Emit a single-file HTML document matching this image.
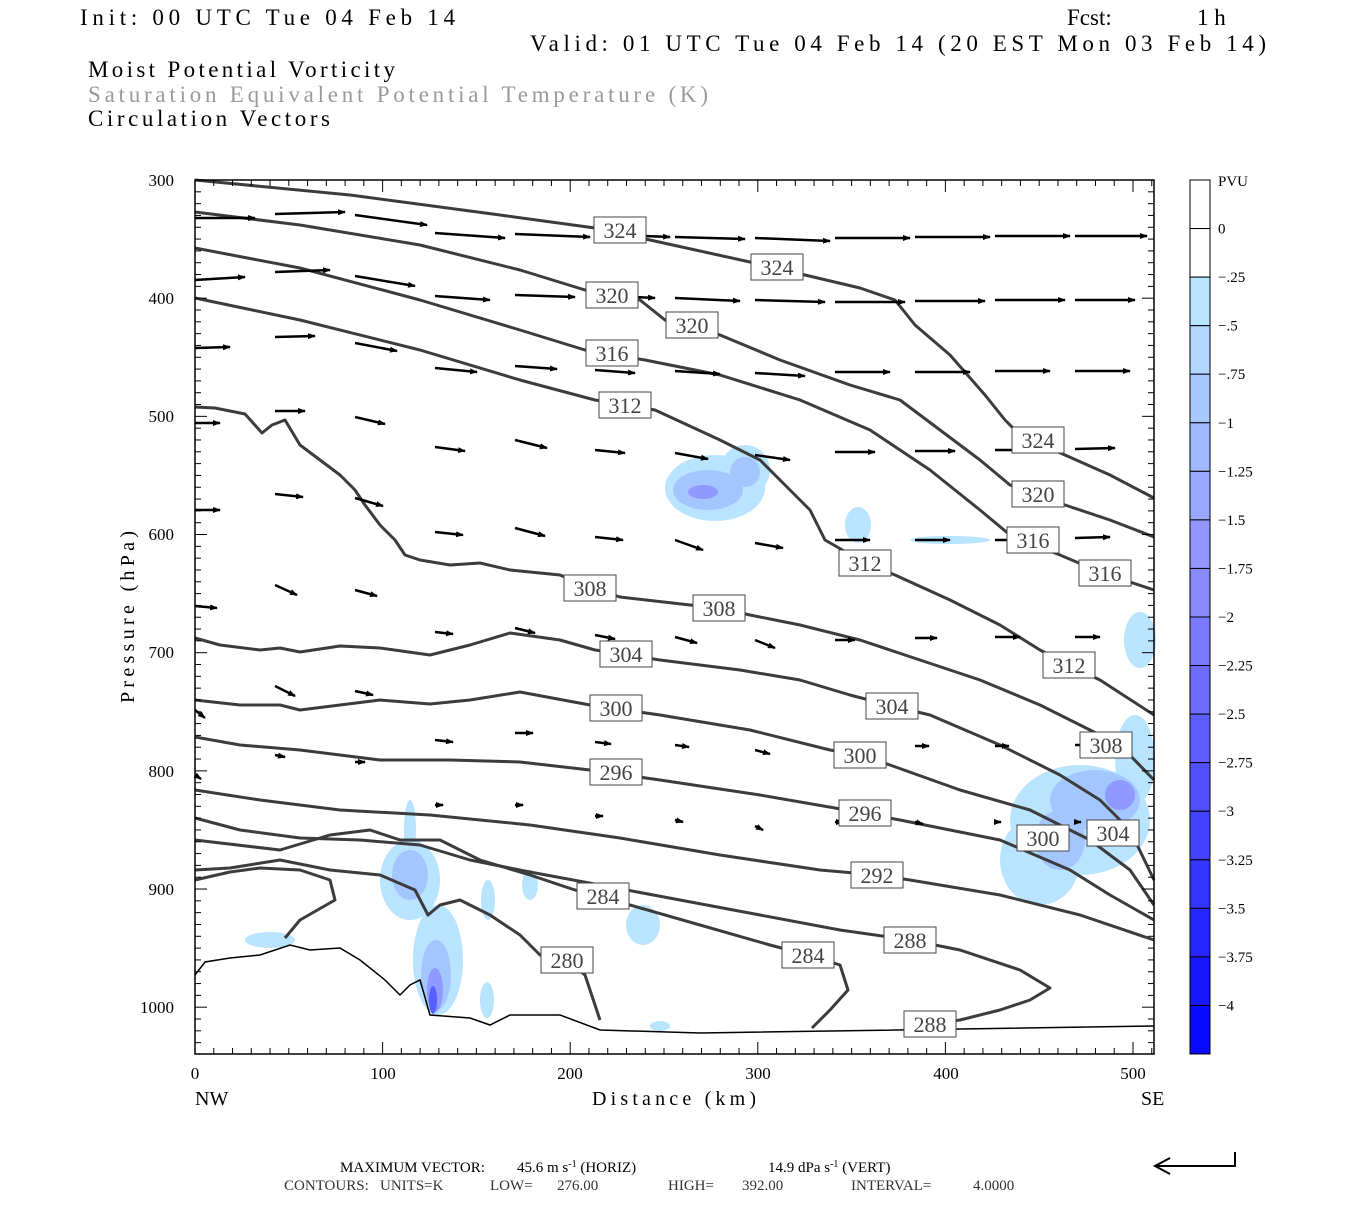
<!DOCTYPE html>
<html><head><meta charset="utf-8"><style>
body{margin:0;background:#fff;width:1350px;height:1200px;overflow:hidden}
svg{font-family:"Liberation Serif",serif}
</style></head><body>
<svg id="s" width="1350" height="1200" xmlns="http://www.w3.org/2000/svg">
<defs><marker id="ah" markerWidth="8" markerHeight="8" refX="7" refY="4" orient="auto" markerUnits="userSpaceOnUse"><path d="M0,1 L8,4 L0,7 Z" fill="#000"/></marker></defs>
<g font-size="23" fill="#000" lengthAdjust="spacing">
<text x="80" y="25" textLength="375">Init: 00 UTC Tue 04 Feb 14</text>
<text x="1067" y="25">Fcst:</text><text x="1197" y="25">1 h</text>
<text x="530" y="51" textLength="736">Valid: 01 UTC Tue 04 Feb 14 (20 EST Mon 03 Feb 14)</text>
<text x="88" y="77" textLength="307">Moist Potential Vorticity</text>
<text x="88" y="102" fill="#999" textLength="620">Saturation Equivalent Potential Temperature (K)</text>
<text x="88" y="126" textLength="242">Circulation Vectors</text>
</g>
<g id="shade" fill="#b9e4ff">
<ellipse cx="715" cy="488" rx="50" ry="33"/><ellipse cx="745" cy="470" rx="25" ry="25"/>
<ellipse cx="858" cy="525" rx="13" ry="18"/><ellipse cx="950" cy="540" rx="40" ry="4"/>
<ellipse cx="1140" cy="640" rx="16" ry="28"/>
<ellipse cx="1080" cy="820" rx="70" ry="55"/><ellipse cx="1040" cy="860" rx="40" ry="45"/><ellipse cx="1135" cy="760" rx="20" ry="45"/>
<ellipse cx="410" cy="880" rx="30" ry="40"/><ellipse cx="438" cy="960" rx="25" ry="55"/><ellipse cx="410" cy="830" rx="6" ry="30"/>
<ellipse cx="488" cy="900" rx="7" ry="20"/><ellipse cx="530" cy="885" rx="8" ry="15"/><ellipse cx="643" cy="925" rx="17" ry="20"/>
<ellipse cx="270" cy="940" rx="25" ry="8"/><ellipse cx="487" cy="1000" rx="7" ry="18"/><ellipse cx="660" cy="1026" rx="10" ry="5"/>
</g>
<g fill="#a4c6ff"><ellipse cx="708" cy="490" rx="35" ry="20"/><ellipse cx="745" cy="472" rx="15" ry="15"/><ellipse cx="1095" cy="800" rx="45" ry="30"/><ellipse cx="1060" cy="840" rx="25" ry="30"/><ellipse cx="410" cy="875" rx="18" ry="25"/><ellipse cx="436" cy="975" rx="15" ry="35"/></g>
<g fill="#8f99ff"><ellipse cx="703" cy="492" rx="15" ry="7"/><ellipse cx="1120" cy="795" rx="15" ry="15"/><ellipse cx="435" cy="990" rx="8" ry="22"/></g>
<g fill="#5560ff"><ellipse cx="433" cy="1000" rx="4" ry="14"/></g>
<g id="cont" fill="none" stroke="#3c3c3c" stroke-width="3" stroke-linejoin="round"></g>
<path d="M195,975 L205,962 230,958 260,955 290,945 310,950 340,948 360,960 385,980 400,995 410,985 420,980 430,1015 470,1018 490,1025 510,1015 560,1015 600,1030 700,1033 1154,1026" fill="none" stroke="#000" stroke-width="1.5"/>
<g id="vec" stroke="#000" stroke-width="2.5" fill="none"></g>
<g id="lab" font-size="22" fill="#444"></g>
<rect x="195" y="180" width="959" height="874" fill="none" stroke="#000" stroke-width="1.5"/>
<g id="ticks" stroke="#000" stroke-width="1"></g>
<g font-size="17" text-anchor="end">
<text x="174" y="186">300</text><text x="174" y="304">400</text><text x="174" y="422">500</text><text x="174" y="540">600</text><text x="174" y="658">700</text><text x="174" y="777">800</text><text x="174" y="895">900</text><text x="174" y="1013">1000</text>
</g>
<text transform="translate(134,617) rotate(-90)" font-size="20" text-anchor="middle" textLength="172" lengthAdjust="spacing">Pressure (hPa)</text>
<g font-size="17" text-anchor="middle">
<text x="195" y="1079">0</text><text x="383" y="1079">100</text><text x="570" y="1079">200</text><text x="758" y="1079">300</text><text x="946" y="1079">400</text><text x="1133" y="1079">500</text>
</g>
<text x="195" y="1105" font-size="20">NW</text><text x="1141" y="1105" font-size="20">SE</text>
<text x="592" y="1105" font-size="20" textLength="164" lengthAdjust="spacing">Distance (km)</text>
<g id="cb"></g>
<text x="1218" y="186" font-size="15">PVU</text>
<g font-size="15">
<text x="340" y="1172">MAXIMUM VECTOR:</text><text x="517" y="1172">45.6 m s<tspan dy="-5" font-size="10">-1</tspan><tspan dy="5"> (HORIZ)</tspan></text>
<text x="768" y="1172">14.9 dPa s<tspan dy="-5" font-size="10">-1</tspan><tspan dy="5"> (VERT)</tspan></text>
<text x="284" y="1190" fill="#333">CONTOURS:</text><text x="380" y="1190" fill="#333">UNITS=K</text><text x="490" y="1190" fill="#333">LOW=</text><text x="557" y="1190" fill="#333">276.00</text>
<text x="668" y="1190" fill="#333">HIGH=</text><text x="742" y="1190" fill="#333">392.00</text><text x="851" y="1190" fill="#333">INTERVAL=</text><text x="973" y="1190" fill="#333">4.0000</text>
</g>
<path d="M1157,1166 L1235,1166 L1235,1152" stroke="#000" stroke-width="2" fill="none"/>
<path d="M1170,1158 L1155,1166 L1170,1174" stroke="#000" stroke-width="2" fill="none"/>
</svg>
<script>
var NS="http://www.w3.org/2000/svg";
function el(p,t,a){var e=document.createElementNS(NS,t);for(var k in a)e.setAttribute(k,a[k]);document.getElementById(p).appendChild(e);return e;}
var C=[
"195,180 350,195 500,215 595,228 650,240 750,262 805,275 860,288 895,300 915,325 950,355 985,395 1005,420 1020,435 1065,455 1110,475 1154,498",
"195,212 300,225 420,245 520,270 585,290 640,300 665,320 720,335 780,360 850,385 900,400 940,430 980,460 1010,485 1065,505 1110,520 1154,537",
"195,248 300,268 420,300 520,330 585,350 645,360 720,375 800,400 870,430 930,470 980,510 1010,535 1060,555 1100,572 1154,590",
"195,298 300,320 420,350 520,380 595,400 655,410 720,440 760,460 790,490 810,510 825,540 865,563 895,575 950,600 1000,625 1040,650 1069,665 1100,680 1154,715",
"195,407 215,408 245,414 262,433 272,425 285,420 300,445 320,460 340,475 355,490 365,505 380,525 395,540 405,555 420,560 450,565 480,563 510,570 560,575 590,588 620,597 690,605 719,608 750,615 800,625 860,640 920,660 980,680 1040,705 1080,725 1120,745 1154,780",
"195,638 220,645 260,650 280,648 300,652 340,646 380,648 430,655 470,645 510,633 560,640 595,650 660,660 740,670 800,680 850,695 892,706 930,715 1000,745 1060,775 1100,800 1130,830 1154,880",
"195,700 240,705 280,705 300,710 380,700 430,704 470,700 520,692 590,705 660,715 750,730 830,750 860,755 890,765 960,790 1030,810 1090,840 1130,870 1154,905",
"195,737 240,745 300,750 380,760 450,760 520,762 590,770 660,780 760,795 835,808 900,820 1000,840 1070,870 1110,895 1154,920",
"195,790 260,800 340,810 430,815 530,825 620,838 720,855 820,870 877,875 910,880 1000,895 1080,915 1154,940",
"195,818 240,830 300,838 360,840 420,845 470,860 530,872 600,885 680,900 760,915 840,930 910,940 960,950 1020,970 1050,988 1030,1000 1000,1010 960,1020 930,1024",
"195,840 280,850 330,835 370,830 400,840 440,840 480,860 530,875 575,890 603,896 630,905 700,925 770,945 808,955 840,965 848,990 830,1010 812,1028",
"195,870 230,868 280,860 330,870 380,875 415,890 428,915 440,905 460,900 490,915 520,935 540,955 567,960 585,975 600,1020",
"195,880 230,872 260,868 300,870 330,880 335,900 300,920 285,938"
];
C.forEach(function(c){el("cont","polyline",{points:c});});
var L=[[620,230,"324"],[777,267,"324"],[1038,440,"324"],[612,295,"320"],[692,325,"320"],[1038,494,"320"],[612,353,"316"],[1033,540,"316"],[1105,573,"316"],[625,405,"312"],[865,563,"312"],[1069,665,"312"],[590,588,"308"],[719,608,"308"],[1106,745,"308"],[626,654,"304"],[892,706,"304"],[1113,833,"304"],[616,708,"300"],[860,755,"300"],[1043,838,"300"],[616,772,"296"],[865,813,"296"],[877,875,"292"],[910,940,"288"],[930,1024,"288"],[603,896,"284"],[808,955,"284"],[567,960,"280"]];
L.forEach(function(l){el("lab","rect",{x:l[0]-26,y:l[1]-13,width:52,height:26,fill:"#fff",stroke:"#444","stroke-width":1});var t=el("lab","text",{x:l[0],y:l[1]+8,"text-anchor":"middle"});t.textContent=l[2];});
var XS=[195,275,355,435,515,595,675,755,835,915,995,1075];
var R=[
[[218,60,0],[214,70,-2],[215,72,10],[233,70,5],[234,75,3],[234,75,3],[237,70,2],[238,75,3],[238,75,0],[237,75,0],[236,75,0],[236,72,0]],
[[280,50,-3],[272,55,-2],[276,60,10],[296,55,4],[295,60,2],[295,60,3],[298,65,3],[300,70,2],[302,70,0],[301,70,0],[300,70,0],[300,60,0]],
[[348,35,-1],[337,40,-1],[343,42,8],[368,42,4],[366,42,3],[370,40,3],[371,45,3],[373,50,3],[372,55,0],[372,55,0],[371,55,0],[371,55,0]],
[[423,25,0],[411,30,0],[417,30,7],[447,30,4],[440,32,8],[450,30,3],[453,33,6],[455,35,5],[452,40,0],[451,40,0],[450,40,0],[449,40,-1]],
[[510,25,0],[494,28,3],[498,28,8],[532,28,3],[528,30,8],[537,28,3],[540,28,10],[543,28,5],[540,35,0],[540,35,0],[540,35,0],[538,35,-1]],
[[606,22,2],[585,22,10],[590,22,6],[632,18,2],[628,20,5],[635,20,4],[637,22,6],[640,20,8],[640,20,0],[638,22,0],[637,25,0],[637,25,0]],
[[710,10,8],[686,20,10],[691,18,4],[740,18,2],[733,18,0],[742,16,2],[745,14,2],[750,15,4],[748,16,0],[746,14,0],[746,14,0],[745,14,0]],
[[775,6,4],[755,10,2],[762,10,0],[805,8,0],[805,8,0],[816,8,0],[820,8,2],[826,8,4],[822,8,0],[822,8,2],[822,6,0],[822,6,0]]
];
R.forEach(function(r){r.forEach(function(a,i){var x=XS[i];el("vec","line",{x1:x,y1:a[0],x2:x+a[1],y2:a[0]+a[2],"marker-end":"url(#ah)"});});});
for(var p=300;p<=1030;p+=10){var y=180+(p-300)*1.1817;var w=(p%100==0)?12:6;el("ticks","line",{x1:195,y1:y,x2:195+w,y2:y});el("ticks","line",{x1:1154,y1:y,x2:1154-w,y2:y});}
for(var d=0;d<=510;d+=10){var x=195+d*1.876;var h=(d%100==0)?12:6;el("ticks","line",{x1:x,y1:1054,x2:x,y2:1054-h});el("ticks","line",{x1:x,y1:180,x2:x,y2:180+h});}
var cols=["#fff","#fff","#b9e6ff","#b0d8ff","#a8c8ff","#a0b8ff","#98a8ff","#9098ff","#8888ff","#7a7aff","#6c6cff","#5e5eff","#5050ff","#4242ff","#3434ff","#2626ff","#1818ff","#0a0aff"];
var labs=["0","\u2212.25","\u2212.5","\u2212.75","\u22121","\u22121.25","\u22121.5","\u22121.75","\u22122","\u22122.25","\u22122.5","\u22122.75","\u22123","\u22123.25","\u22123.5","\u22123.75","\u22124"];
var hh=874/18;
cols.forEach(function(c,i){el("cb","rect",{x:1190,y:180+i*hh,width:20,height:hh,fill:c,stroke:"#000","stroke-width":1});});
labs.forEach(function(t,i){var e=el("cb","text",{x:1218,y:180+(i+1)*hh+5,"font-size":15});e.textContent=t;});
</script>
</body></html>
